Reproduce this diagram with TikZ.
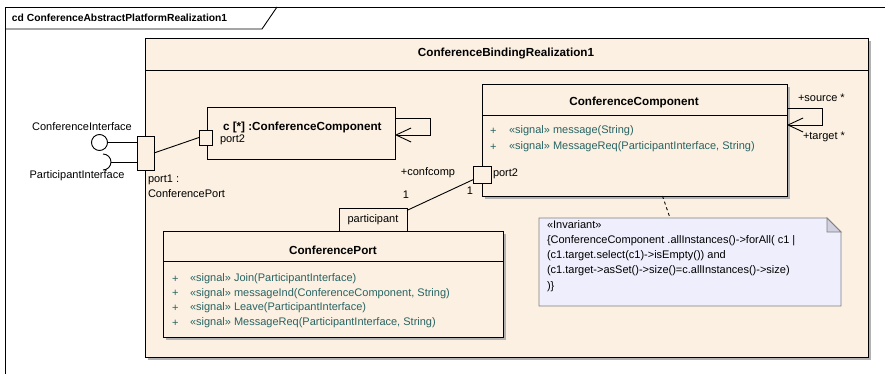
\documentclass[tikz,border=0pt]{standalone}
\usepackage{fontspec}
\setmainfont{Liberation Sans}
\usetikzlibrary{arrows.meta,shadows}
\definecolor{umlfill}{RGB}{251,240,225}
\definecolor{umlop}{RGB}{40,100,100}
\definecolor{notefill}{RGB}{238,238,252}
\definecolor{notefold}{RGB}{208,208,224}
\definecolor{noteline}{RGB}{128,128,128}
\begin{document}
\begin{tikzpicture}
        [
            x=1pt, y=-1pt, line width=0.9pt,
            every node/.style = {font=\fontsize{11}{13}\selectfont, inner sep=0pt, outer sep=0pt},
            box/.style = {draw, fill=umlfill, anchor=north west},
            shadowbox/.style = {box, drop shadow={shadow xshift=3pt, shadow yshift=-3pt, fill=black!30, opacity=1}},
            headtxt/.style = {font=\fontsize{11.7}{13}\selectfont\bfseries},
            txt/.style = {anchor=west},
            op/.style = {anchor=west, text=umlop},
            selfloop/.style = {-{Straight Barb[length=15pt, width=14pt]}},
            notebox/.style = {draw=noteline, fill=notefill},
        ]
        \useasboundingbox (0,0) rectangle (885,374);
        \draw (5,7) rectangle (890,380);
        \draw (5,29) -- (262,29) -- (277,7);
        \node[font=\fontsize{10.3}{12}\selectfont\bfseries, anchor=west] (cdt) at (12,18) {cd ConferenceAbstractPlatformRealization1};
        \node[shadowbox, minimum width=723, minimum height=319] (bind) at (145,38) {};
        \draw (145,70) -- (868,70);
        \node[headtxt] (bindt) at (506,54) {ConferenceBindingRealization1};
        \node[box, minimum width=188, minimum height=52] (pc) at (207,107) {};
        \node[headtxt, anchor=west] (pct) at (223,127) {c [*] :ConferenceComponent};
        \node[box, minimum width=13, minimum height=15] (pc2) at (199,130) {};
        \node[txt] (pc2t) at (220,140) {port2};
        \draw[selfloop] ([yshift=-11pt]pc.north east) -- ++(35,0) |- ([yshift=-2pt]pc.east);
        \node[box, minimum width=17, minimum height=34] (p1) at (137,136) {};
        \node[draw, circle, fill=white, minimum size=16] (ci) at (99.5,142.5) {};
        \coordinate (pi) at (111,162);
        \draw (ci) -- (p1.west |- ci);
        \draw ([shift={(-8pt,8pt)}]pi) arc[start angle=90, end angle=-90, radius=8pt];
        \draw (pi) -- (p1.west |- pi);
        \node (cit) at (82,127) {ConferenceInterface};
        \node (pit) at (77,176) {ParticipantInterface};
        \node[txt] (p1t) at (148,180) {port1 :};
        \node[txt] (p1c) at (148,194) {ConferencePort};
        \draw (p1.east) -- (pc2.west);
        \node[shadowbox, minimum width=305, minimum height=112] (cc) at (482,84) {};
        \draw (482,115) -- (787,115);
        \node[headtxt] (cct) at (634,102) {ConferenceComponent};
        \node[op] (ccp1) at (490,131) {+};
        \node[op] (cco1) at (509,131) {«signal» message(String)};
        \node[op] (ccp2) at (490,147) {+};
        \node[op] (cco2) at (509,147) {«signal» MessageReq(ParticipantInterface, String)};
        \node[box, minimum width=18, minimum height=17] (pp2) at (473,166) {};
        \node[txt] (pp2t) at (493,174) {port2};
        \draw[selfloop] ([yshift=-24pt]cc.north east) -- ++(35,0) |- ([yshift=15pt]cc.east);
        \node[txt] (src) at (798,98) {+source *};
        \node[txt] (tgt) at (803,137) {+target *};
        \node[box, minimum width=68, minimum height=23] (part) at (339,208) {};
        \node (partt) at (373,219.5) {participant};
        \draw (part.15) -- (pp2.210);
        \node (lcc) at (428,173) {+confcomp};
        \node (l1a) at (470,191) {1};
        \node (l1b) at (406,195) {1};
        \node[shadowbox, minimum width=340, minimum height=106] (cp) at (163,231) {};
        \draw (163,261) -- (503,261);
        \node[headtxt] (cpt) at (333,250) {ConferencePort};
        \node[op] (cpp1) at (172,279) {+};
        \node[op] (cpo1) at (190,279) {«signal» Join(ParticipantInterface)};
        \node[op] (cpp2) at (172,293.5) {+};
        \node[op] (cpo2) at (190,293.5) {«signal» messageInd(ConferenceComponent, String)};
        \node[op] (cpp3) at (172,308) {+};
        \node[op] (cpo3) at (190,308) {«signal» Leave(ParticipantInterface)};
        \node[op] (cpp4) at (172,323) {+};
        \node[op] (cpo4) at (190,323) {«signal» MessageReq(ParticipantInterface, String)};
        \node[minimum width=302, minimum height=88, anchor=north west] (inv) at (539,218) {};
        \draw[notebox] (inv.north west) -- ([xshift=-14pt]inv.north east) -- ([yshift=-14pt]inv.north east) -- (inv.south east) -- (inv.south west) -- cycle;
        \draw[notebox, fill=notefold] ([xshift=-14pt]inv.north east) -- ([xshift=-14pt, yshift=-14pt]inv.north east) -- ([yshift=-14pt]inv.north east) -- cycle;
        \node[txt] (inv1) at (547,225) {«Invariant»};
        \node[txt] (inv2) at (547,241) {\{ConferenceComponent .allInstances()->forAll( c1 |};
        \node[txt] (inv3) at (547,256) {(c1.target.select(c1)->isEmpty()) and};
        \node[txt] (inv4) at (547,271) {(c1.target->asSet()->size()=c.allInstances()->size)};
        \node[txt] (inv5) at (547,287) {)\}};
        \draw[dashed] ([xshift=28pt]cc.south) -- ([xshift=-20pt]inv.north);
    \end{tikzpicture}
\end{document}
